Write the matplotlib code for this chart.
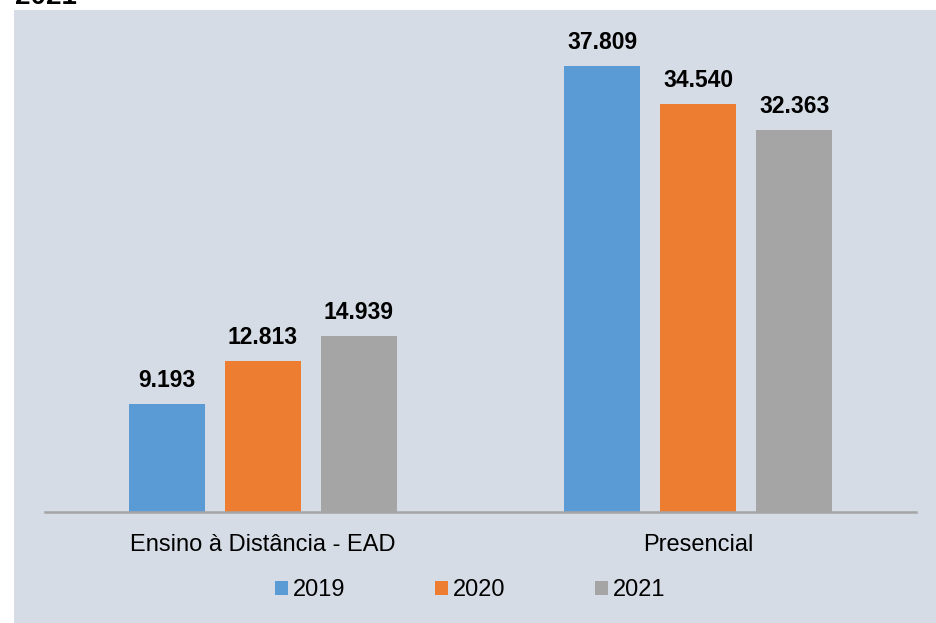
import matplotlib
matplotlib.use("Agg")
import matplotlib.pyplot as plt
from matplotlib.patches import Rectangle
import numpy as np

categories = ["Ensino à Distância - EAD", "Presencial"]
years = ["2019", "2020", "2021"]
values_2019 = [9193, 37809]
values_2020 = [12813, 34540]
values_2021 = [14939, 32363]
colors = ["#5B9BD5", "#ED7D31", "#A5A5A5"]
title_text = "2021"

plt.rcParams['font.family'] = ['Liberation Sans', 'DejaVu Sans']

W, H = 937, 623
fig = plt.figure(figsize=(W / 100, H / 100), dpi=100)
fig.patch.set_facecolor("white")
fig.patches.append(Rectangle((14 / W, 0), 1 - 14 / W, 1 - 10 / H, transform=fig.transFigure,
                             facecolor="#D6DCE5", edgecolor="none", zorder=-5))

ax = fig.add_axes([45 / W, 111 / H, (916 - 45) / W, (512 - 40) / H])
ax.set_facecolor("none")
ax.set_zorder(2)

x = np.arange(len(categories))
bw = 76 / 435.5
step = 96 / 435.5
series = [values_2019, values_2020, values_2021]
for i, (vals, col, yr) in enumerate(zip(series, colors, years)):
    pos = x + (i - 1) * step
    bars = ax.bar(pos, vals, width=bw, color=col, label=yr, zorder=2)
    for b, v in zip(bars, vals):
        ax.annotate(f"{v:,}".replace(",", "."), (b.get_x() + b.get_width() / 2, v),
                    xytext=(0, 12), textcoords="offset pixels", ha="center", va="bottom",
                    fontsize=16.5, fontweight="bold", color="#000000")

ax.set_xlim(-0.5, 1.5)
ax.set_ylim(0, 40000)
ax.set_xticks(x)
ax.set_xticklabels(categories, fontsize=17)
ax.tick_params(axis="x", length=0, pad=16)
ax.set_yticks([])
for s in ["top", "right", "left"]:
    ax.spines[s].set_visible(False)
ax.spines["bottom"].set_color("#A5A5A5")
ax.spines["bottom"].set_linewidth(1.8)

fig.legend(loc="center", bbox_to_anchor=(470 / W, 33 / H), ncol=3, frameon=False,
           fontsize=17, handlelength=0.55, handleheight=0.55, handletextpad=0.2,
           columnspacing=3.8, borderaxespad=0)

fig.text(15 / W, 1 - 4 / H, title_text, fontsize=20, fontweight="bold",
         ha="left", va="baseline")

fig.savefig("out.png", dpi=100)
